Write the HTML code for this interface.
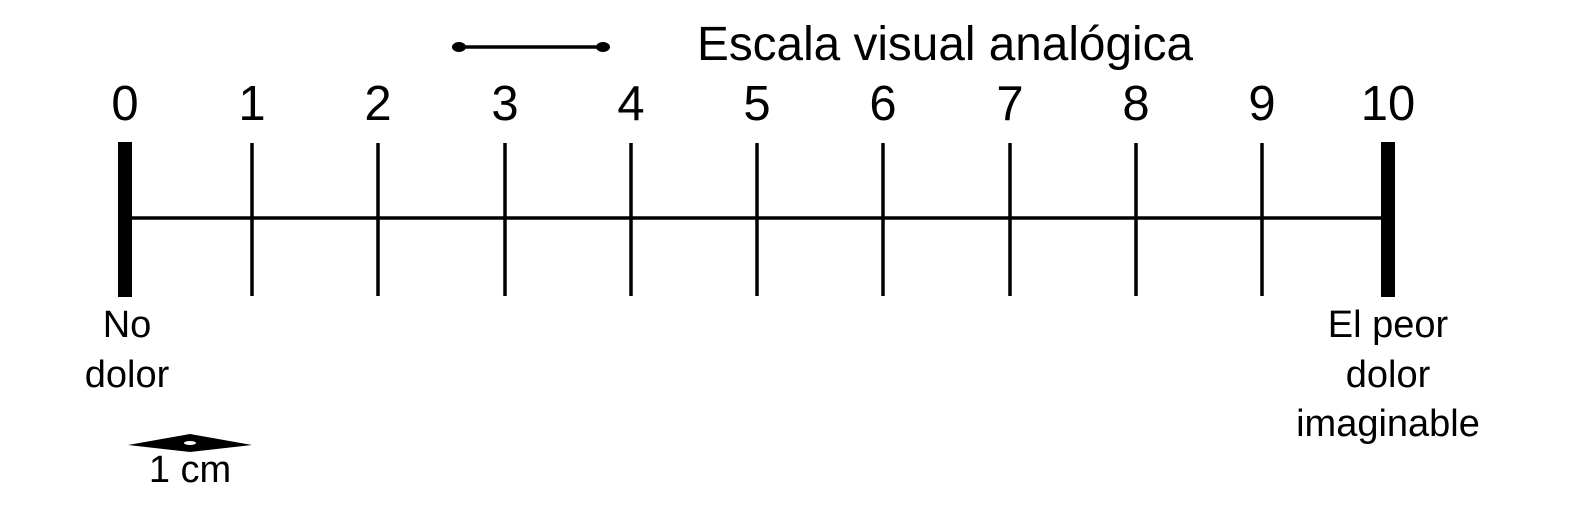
<!DOCTYPE html>
<html><head><style>
html,body{margin:0;padding:0;background:#fff;}
</style></head><body>
<svg width="1585" height="517" viewBox="0 0 1585 517" xmlns="http://www.w3.org/2000/svg" style="display:block">
<g font-family="Liberation Sans, sans-serif" fill="#000">
<text x="697" y="60" font-size="48" textLength="496" lengthAdjust="spacingAndGlyphs">Escala visual analógica</text>
<g font-size="49" text-anchor="middle">
<text x="125" y="120">0</text><text x="252" y="120">1</text><text x="378" y="120">2</text>
<text x="505" y="120">3</text><text x="631" y="120">4</text><text x="757" y="120">5</text>
<text x="883" y="120">6</text><text x="1010" y="120">7</text><text x="1136" y="120">8</text>
<text x="1262" y="120">9</text><text x="1388" y="120">10</text>
</g>
<g font-size="38" text-anchor="middle">
<text x="127" y="337">No</text><text x="127" y="387">dolor</text>
<text x="1388" y="337">El peor</text><text x="1388" y="387">dolor</text><text x="1388" y="436">imaginable</text>
<text x="190" y="482">1 cm</text>
</g>
</g>
<g stroke="#000" stroke-width="3.5">
<line x1="458" y1="47" x2="604" y2="47"/>
<line x1="125" y1="218" x2="1388" y2="218"/>
<line x1="252" y1="143" x2="252" y2="296"/><line x1="378" y1="143" x2="378" y2="296"/>
<line x1="505" y1="143" x2="505" y2="296"/><line x1="631" y1="143" x2="631" y2="296"/>
<line x1="757" y1="143" x2="757" y2="296"/><line x1="883" y1="143" x2="883" y2="296"/>
<line x1="1010" y1="143" x2="1010" y2="296"/><line x1="1136" y1="143" x2="1136" y2="296"/>
<line x1="1262" y1="143" x2="1262" y2="296"/>
</g>
<ellipse cx="459" cy="47" rx="7" ry="5" fill="#000"/>
<ellipse cx="603" cy="47" rx="7" ry="5" fill="#000"/>
<rect x="118" y="142" width="14" height="155" fill="#000"/>
<rect x="1381" y="142" width="14" height="155" fill="#000"/>
<polygon points="128,445 190,434 252,445 190,452" fill="#000"/>
<ellipse cx="190" cy="443" rx="6" ry="2" fill="#fff"/>
</svg>
</body></html>
